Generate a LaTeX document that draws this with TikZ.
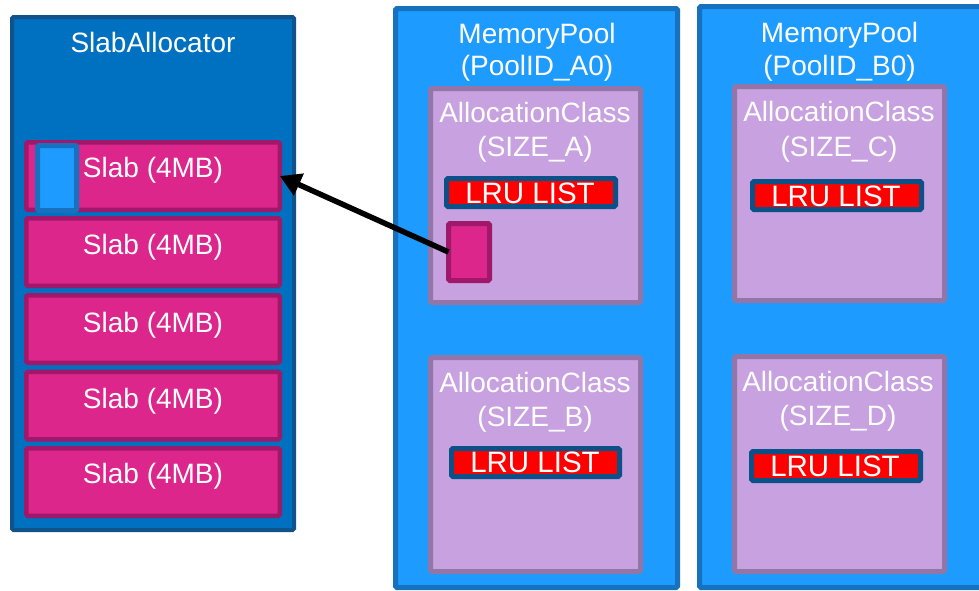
\documentclass[tikz,border=0pt]{standalone}
\usepackage{fontspec}
\setmainfont{Liberation Sans}
\usetikzlibrary{arrows.meta}
\definecolor{saFill}{RGB}{0,112,192}
\definecolor{saBorder}{RGB}{16,82,138}
\definecolor{poolFill}{RGB}{30,155,255}
\definecolor{poolBorder}{RGB}{22,114,190}
\definecolor{acFill}{RGB}{200,161,224}
\definecolor{acBorder}{RGB}{147,118,167}
\definecolor{slabFill}{RGB}{220,38,139}
\definecolor{slabBorder}{RGB}{160,24,106}
\definecolor{lruFill}{RGB}{255,0,0}
\definecolor{lruBorder}{RGB}{12,80,136}
\tikzset{
  box/.style={draw, rectangle, inner sep=0pt, outer sep=0pt, rounded corners=1.5pt},
  sabox/.style={box, fill=saFill, draw=saBorder, line width=4pt},
  poolbox/.style={box, fill=poolFill, draw=poolBorder, line width=5pt},
  acbox/.style={box, fill=acFill, draw=acBorder, line width=5pt},
  slabbox/.style={box, fill=slabFill, draw=slabBorder, line width=4.5pt, minimum width=253.5pt, minimum height=67.5pt},
  lrubox/.style={box, fill=lruFill, draw=lruBorder, line width=5pt, minimum height=28pt},
  lbl/.style={text=white, inner sep=0pt, anchor=base, font=\fontsize{28}{34}\selectfont},
  lrulbl/.style={lbl, font=\fontsize{29.5}{34}\selectfont},
  arr/.style={line width=5.5pt, -{Triangle[length=21pt,width=23pt]}}
}
\begin{document}
\begin{tikzpicture}[x=1pt,y=-1pt]
\clip (0,0) rectangle (979,590);
\fill[white] (0,0) rectangle (979,590);
% Slab allocator
\node[sabox, minimum width=282pt, minimum height=513pt] (sa) at (153,273.5) {};
\node[lbl] (saT) at (153,52) {SlabAllocator};
\node[slabbox] (slab1) at (153,176) {};
\node[slabbox] (slab2) at (153,252) {};
\node[slabbox] (slab3) at (153,329) {};
\node[slabbox] (slab4) at (153,405.5) {};
\node[slabbox] (slab5) at (153,482) {};
\node[box, fill=poolFill, draw=poolBorder, line width=5pt, minimum width=39pt, minimum height=65pt] (slabPart) at (57,178) {};
\node[lbl] (slab1T) at (153,177) {Slab (4MB)};
\node[lbl] (slab2T) at (153,254) {Slab (4MB)};
\node[lbl] (slab3T) at (153,332) {Slab (4MB)};
\node[lbl] (slab4T) at (153,408) {Slab (4MB)};
\node[lbl] (slab5T) at (153,483) {Slab (4MB)};
% Pool A0
\node[poolbox, minimum width=282pt, minimum height=579pt] (poolA) at (536.5,298) {};
\node[lbl] (poolAT1) at (537,43) {MemoryPool};
\node[lbl] (poolAT2) at (537,75) {(PoolID\_A0)};
\node[acbox, minimum width=210pt, minimum height=214pt] (acA) at (535.5,195.5) {};
\node[lbl] (acAT1) at (535,122) {AllocationClass};
\node[lbl] (acAT2) at (535,156) {(SIZE\_A)};
\node[lrubox, minimum width=169pt] (lruA) at (531,192.5) {};
\node[lrulbl] (lruAT) at (530,203) {LRU LIST};
\node[box, fill=slabFill, draw=slabBorder, line width=5pt, minimum width=41pt, minimum height=57pt] (slabRef) at (469,252) {};
\node[acbox, minimum width=210pt, minimum height=214pt] (acB) at (535.5,464.5) {};
\node[lbl] (acBT1) at (535,392) {AllocationClass};
\node[lbl] (acBT2) at (535,426) {(SIZE\_B)};
\node[lrubox, minimum width=168pt] (lruB) at (535.5,462.5) {};
\node[lrulbl] (lruBT) at (535,472) {LRU LIST};
% Pool B0
\node[poolbox, minimum width=288pt, minimum height=581pt] (poolB) at (843.5,297) {};
\node[lbl] (poolBT1) at (839.5,42) {MemoryPool};
\node[lbl] (poolBT2) at (839.5,75) {(PoolID\_B0)};
\node[acbox, minimum width=210pt, minimum height=214pt] (acC) at (839.5,193.5) {};
\node[lbl] (acCT1) at (839,121) {AllocationClass};
\node[lbl] (acCT2) at (839,156) {(SIZE\_C)};
\node[lrubox, minimum width=169pt] (lruC) at (837,195.5) {};
\node[lrulbl] (lruCT) at (836,206) {LRU LIST};
\node[acbox, minimum width=210pt, minimum height=215pt] (acD) at (839.5,464) {};
\node[lbl] (acDT1) at (838,391) {AllocationClass};
\node[lbl] (acDT2) at (838,425) {(SIZE\_D)};
\node[lrubox, minimum width=169pt, minimum height=29pt] (lruD) at (836,466) {};
\node[lrulbl] (lruDT) at (835,476) {LRU LIST};
% Arrow
\draw[arr] (slabRef.west) -- (slab1.east);
\end{tikzpicture}
\end{document}
